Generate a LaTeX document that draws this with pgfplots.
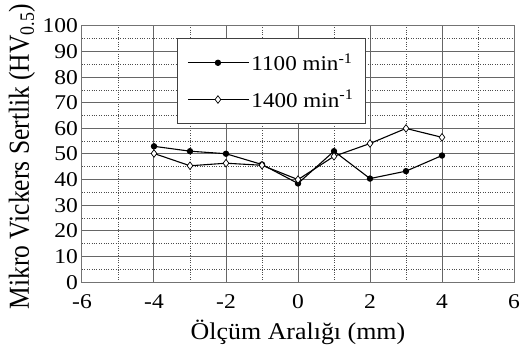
\documentclass[border=0pt]{standalone}
\usepackage{pgfplots}
\pgfplotsset{compat=1.18}
\usepackage{fontspec}
\setmainfont{Liberation Serif}
\newfontfamily\tickfont[FakeStretch=1.12]{Liberation Serif}
\newfontfamily\xlabfont[FakeStretch=1.08]{Liberation Serif}
\newfontfamily\ylabfont[FakeStretch=0.88]{Liberation Serif}
\newfontfamily\legfont[FakeStretch=1.1]{Liberation Serif}
\begin{document}
\begin{tikzpicture}
\begin{axis}[
  scale only axis,
  width=432pt, height=256pt,
  xmin=-6, xmax=6, ymin=0, ymax=100,
  xtick={-6,-4,...,6}, ytick={0,10,...,100},
  minor xtick={-5,-3,...,5}, minor ytick={5,15,...,95},
  grid=both,
  major grid style={draw=black!60, line width=1pt},
  minor grid style={draw=black!70, dotted, line width=0.7pt},
  axis line style={draw=black!55, line width=1pt},
  major tick length=0pt, minor tick length=0pt,
  /pgf/number format/assume math mode=true,
  ticklabel style={font=\tickfont\fontsize{21}{24}\selectfont},
  xticklabel style={anchor=base, yshift=-26pt},
  yticklabel style={anchor=base east, yshift=-7pt, xshift=-0.5pt},
  xlabel={Ölçüm Aralığı (mm)},
  ylabel={Mikro Vickers Sertlik (HV\textsubscript{0.5})},
  xlabel style={font=\xlabfont\fontsize{24}{28}\selectfont, at={(axis description cs:0.5,-0.195)}, anchor=center},
  ylabel style={font=\ylabfont\fontsize{29}{32}\selectfont, at={(axis description cs:-0.139,0.49)}, anchor=center},
  legend style={at={(0.2199,0.953)}, anchor=north west, draw=black!75, line width=0.8pt,
    font=\legfont\fontsize{21}{24}\selectfont, inner xsep=10pt, inner ysep=13pt, row sep=14pt,
    cells={anchor=west}},
  legend image code/.code={\draw[mark repeat=2,mark phase=2,#1] plot coordinates {(0pt,0pt) (30pt,0pt) (61pt,0pt)};},
]
\addplot[black, line width=1.1pt, mark=*, mark size=2.6pt] coordinates {
(-4,53.0) (-3,51.1) (-2,50.1) (-1,45.9) (0,38.5) (1,51.1) (2,40.4) (3,43.3) (4,49.4)};
\addlegendentry{1100 min\textsuperscript{-1}}
\addplot[black, line width=1.1pt, mark=diamond*, mark options={fill=white, line width=0.7pt}, mark size=3.8pt] coordinates {
(-4,50.2) (-3,45.4) (-2,46.4) (-1,45.6) (0,40.0) (1,49.1) (2,54.1) (3,60.0) (4,56.5)};
\addlegendentry{1400 min\textsuperscript{-1}}
\end{axis}
\coordinate (A) at ([shift={(-82pt,-77pt)}]current axis.south west);
\coordinate (B) at ([shift={(6pt,26pt)}]current axis.north east);
\pgfresetboundingbox
\useasboundingbox (A) rectangle (B);
\end{tikzpicture}
\end{document}
